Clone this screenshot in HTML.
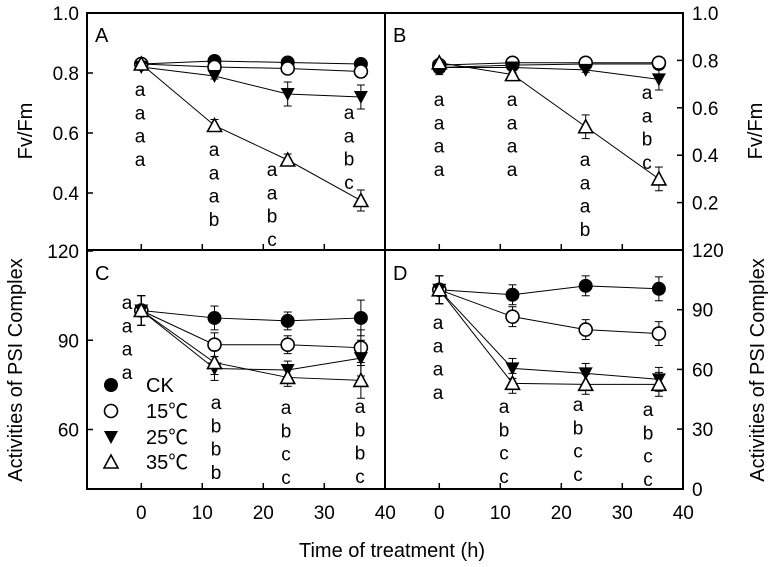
<!DOCTYPE html>
<html><head><meta charset="utf-8"><style>
html,body{margin:0;padding:0;background:#fff;}
svg{display:block;font-family:"Liberation Sans","Noto Sans CJK SC",sans-serif;}
</style></head><body>
<svg id="chart" width="776" height="567" viewBox="0 0 776 567" xmlns="http://www.w3.org/2000/svg"></svg>
<script>
const times = [0, 12, 24, 36];
const seriesNames = ["CK", "15℃", "25℃", "35℃"];
// Panel A (Fv/Fm)
const aCK = [0.83, 0.84, 0.835, 0.83];
const a15 = [0.83, 0.82, 0.815, 0.805];
const a25 = [0.82, 0.79, 0.73, 0.72];
const a35 = [0.83, 0.625, 0.51, 0.375];
const aErr25 = [0.01, 0.01, 0.04, 0.04];
const aErr35 = [0.01, 0.02, 0.02, 0.035];
const aErr15 = [0.005, 0.005, 0.01, 0.02];
// Panel B (Fv/Fm)
const bCK = [0.77, 0.78, 0.785, 0.785];
const b15 = [0.78, 0.79, 0.79, 0.79];
const b25 = [0.77, 0.77, 0.76, 0.72];
const b35 = [0.79, 0.74, 0.52, 0.30];
const bErrCK = [0.03, 0.01, 0.01, 0.01];
const bErr25 = [0.01, 0.01, 0.01, 0.045];
const bErr35 = [0.01, 0.01, 0.05, 0.05];
// Panel C (PSI activity)
const cCK = [100, 97.5, 96.5, 97.5];
const c15 = [100, 88.5, 88.5, 87.5];
const c25 = [100, 80.5, 80, 84];
const c35 = [100, 82.5, 77.5, 76.5];
const cErr = [5, 4, 3, 6];
// Panel D (PSI activity)
const dCK = [100, 97.5, 102, 100.5];
const d15 = [100, 86.5, 80, 78];
const d25 = [100, 60.5, 58, 55];
const d35 = [100, 53, 52.5, 52.5];
const dErr = [7, 5, 5, 6];
// Significance letters
const aLetters = ["aaaa", "aaab", "aabc", "aabc"];
const bLetters = ["aaaa", "aaaa", "aaab", "aabc"];
const cLetters = ["aaaa", "abbb", "abcc", "abbc"];
const dLetters = ["aaaa", "abcc", "abcc", "abcc"];
const xTicks = [0, 10, 20, 30, 40];
const aTicks = [0.4, 0.6, 0.8, 1.0];
const bTicks = [0.2, 0.4, 0.6, 0.8, 1.0];
const cTicks = [60, 90, 120];
const dTicks = [0, 30, 60, 90, 120];

const NS = "http://www.w3.org/2000/svg";
const svg = document.getElementById("chart");
function mk(tag, attrs, parent) {
  const e = document.createElementNS(NS, tag);
  for (const k in attrs) e.setAttribute(k, attrs[k]);
  (parent || svg).appendChild(e);
  return e;
}
function xs(x0) { return v => x0 + (v + 8.9) * 6.1; }
const xL = xs(87), xR = xs(385);
const yA = v => 13 + (1.0 - v) * 300;
const yB = v => 13 + (1.0 - v) * 237;
const yC = v => 251 + (120 - v) * 2.975;
const yD = v => 250 + (120 - v) * 1.99;

function marker(g, type, x, y) {
  let m;
  if (type === 0) m = mk("circle", {cx: x, cy: y, r: 6.5, fill: "#000", stroke: "#000"}, g);
  else if (type === 1) m = mk("circle", {cx: x, cy: y, r: 6.5, fill: "#fff", stroke: "#000", "stroke-width": 1.6}, g);
  else if (type === 2) m = mk("polygon", {points: `${x-7},${y-6} ${x+7},${y-6} ${x},${y+7}`, fill: "#000"}, g);
  else m = mk("polygon", {points: `${x-7},${y+6} ${x+7},${y+6} ${x},${y-7}`, fill: "#fff", stroke: "#000", "stroke-width": 1.6}, g);
  return m;
}

function panel(name, label, xf, yf, data, errs, letters, letterPos) {
  const g = mk("g", {});
  
  
  data.forEach((arr, si) => {
    const pts = times.map((t, i) => xf(t) + "," + yf(arr[i])).join(" ");
    const ln = mk("polyline", {points: pts, fill: "none", stroke: "#000", "stroke-width": 1}, g);
    
    
  });
  data.forEach((arr, si) => {
    const er = errs[si];
    times.forEach((t, i) => {
      if (er) {
        const x = xf(t), y1 = yf(arr[i] + er[i]), y2 = yf(arr[i] - er[i]);
        mk("line", {x1: x, x2: x, y1: y1, y2: y2, stroke: "#000", "stroke-width": 1}, g);
        mk("line", {x1: x - 4, x2: x + 4, y1: y1, y2: y1, stroke: "#000"}, g);
        mk("line", {x1: x - 4, x2: x + 4, y1: y2, y2: y2, stroke: "#000"}, g);
      }
      const m = marker(g, si, xf(t), yf(arr[i]));
      
      
    });
  });
  letters.forEach((s, i) => {
    const p = letterPos[i];
    for (let k = 0; k < s.length; k++) {
      const t = mk("text", {x: p[0], y: p[1] + 6 + k * 23.3, "font-size": 19, "text-anchor": "middle"}, g);
      t.textContent = s[k];
      
      
    }
  });
  const lab = mk("text", {x: xf(-8.9) + 8, y: (yf === yA || yf === yB) ? 42 : 280, "font-size": 20}, g);
  lab.textContent = label;
  
  
}

const frame = mk("g", {stroke: "#000", "stroke-width": 2, fill: "none"});


mk("rect", {x: 87, y: 13, width: 596, height: 476}, frame);
mk("line", {x1: 385, x2: 385, y1: 13, y2: 489}, frame);
mk("line", {x1: 87, x2: 683, y1: 250, y2: 250}, frame);

[xL, xR].forEach(xf => {
  xTicks.forEach(v => {
    if (v === 40) return;
    mk("line", {x1: xf(v), x2: xf(v), y1: 250, y2: 244, stroke: "#000", "stroke-width": 1.5});
    mk("line", {x1: xf(v), x2: xf(v), y1: 489, y2: 483, stroke: "#000", "stroke-width": 1.5});
  });
  xTicks.forEach(v => {
    const t = mk("text", {x: xf(v), y: 519, "font-size": 19, "text-anchor": "middle"});
    t.textContent = v;
    
    
  });
});
function yTicks(ticks, yf, left, fmt) {
  ticks.forEach(v => {
    const y = yf(v);
    if (left) mk("line", {x1: 87, x2: 93, y1: y, y2: y, stroke: "#000", "stroke-width": 1.5});
    else mk("line", {x1: 683, x2: 677, y1: y, y2: y, stroke: "#000", "stroke-width": 1.5});
    const t = mk("text", {x: left ? 79 : 692, y: y + 7, "font-size": 19, "text-anchor": left ? "end" : "start"});
    t.textContent = fmt(v);
    
    
  });
}
yTicks(aTicks, yA, true, v => v.toFixed(1));
yTicks(bTicks, yB, false, v => v.toFixed(1));
yTicks(cTicks, yC, true, v => v);
yTicks(dTicks, yD, false, v => v);

panel("A", "A", xL, yA, [aCK, a15, a25, a35], [null, aErr15, aErr25, aErr35], aLetters,
  [[140, 90], [214, 150], [272, 170], [349, 113]]);
panel("B", "B", xR, yB, [bCK, b15, b25, b35], [bErrCK, null, bErr25, bErr35], bLetters,
  [[439, 100], [512, 100], [585, 160], [647, 93]]);
panel("C", "C", xL, yC, [cCK, c15, c25, c35], [cErr, cErr, cErr, cErr], cLetters,
  [[127, 303], [216, 403], [286, 408], [360, 407]]);
panel("D", "D", xR, yD, [dCK, d15, d25, d35], [dErr, dErr, dErr, dErr], dLetters,
  [[438, 323], [504, 407], [578, 405], [648, 410]]);

const lg = mk("g", {});


[385, 411, 437, 462].forEach((y, i) => {
  marker(lg, i, 111, y);
  const t = mk("text", {x: 146, y: y + 7, "font-size": 20}, lg);
  t.textContent = seriesNames[i];
  
  
});

function title(txt, x, y, rot, name) {
  const t = mk("text", {x: x, y: y, "font-size": 20, "text-anchor": "middle", transform: rot ? `rotate(-90 ${x} ${y})` : ""});
  t.textContent = txt;
  
  
}
title("Fv/Fm", 32, 131, true, "y-axis-title-left-top");
title("Fv/Fm", 762, 131, true, "y-axis-title-right-top");
title("Activities of PSI Complex", 22, 370, true, "y-axis-title-left-bottom");
title("Activities of PSI Complex", 764, 370, true, "y-axis-title-right-bottom");
title("Time of treatment (h)", 392, 557, false, "x-axis-title");
</script>
</body></html>
